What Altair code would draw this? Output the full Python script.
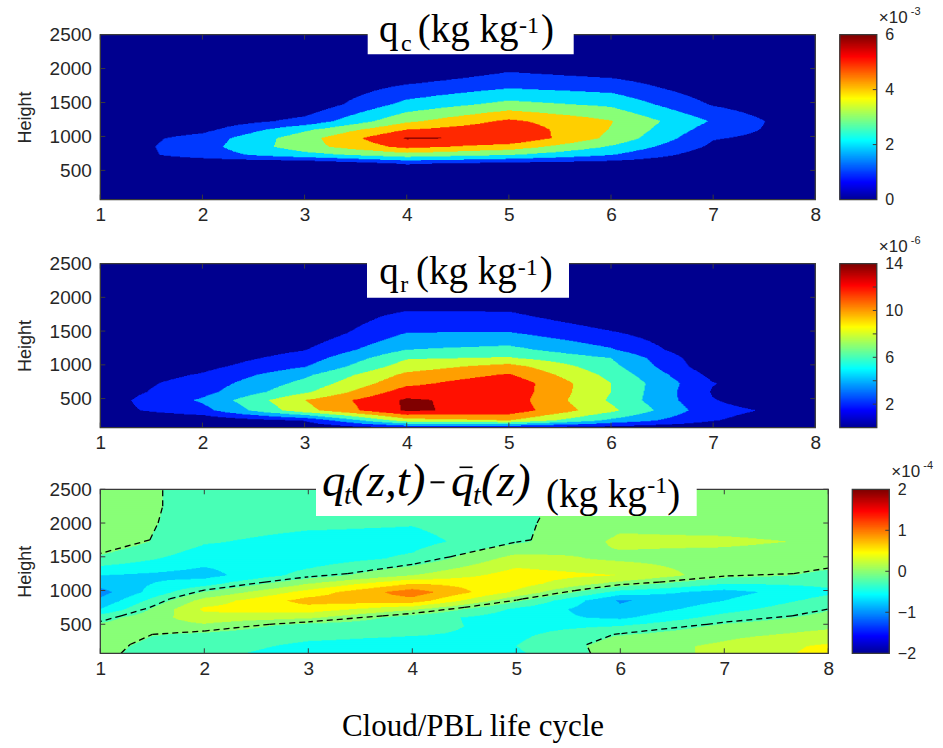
import numpy as np
import pandas as pd
import altair as alt

alt.data_transformers.disable_max_rows()

# ---------------- data ----------------
X_COLS = [1, 2, 3, 4, 5, 6, 7, 8]
HEIGHTS = [70, 200, 350, 500, 625, 750, 875, 1000, 1125, 1250, 1500, 1750, 2000, 2250, 2500]

# q_c  (x 1e-3 kg/kg), rows = HEIGHTS (bottom -> top), cols = X_COLS
QC_E3 = [
    [0, 0, 0, 0, 0, 0, 0, 0],
    [0, 0, 0, 0, 0, 0, 0, 0],
    [0, 0, 0, 0, 0, 0, 0, 0],
    [0, 0, 0, 0, 0, 0, 0, 0],
    [0, 0.1, 0.1, 1.1, 0.7, 0.5, 0.1, 0],
    [0.3, 1.5, 2.6, 3.5, 3.0, 2.0, 0.4, 0.2],
    [0.3, 1.6, 3.6, 5.3, 4.6, 2.9, 0.8, 0.3],
    [0.3, 1.4, 3.6, 6.1, 5.9, 3.75, 1.07, 0.53],
    [0.1, 0.7, 2.8, 5.0, 5.7, 3.95, 1.5, 0.4],
    [0, 0.3, 1.3, 3.8, 5.2, 4.05, 1.9, 0.14],
    [0, 0, 0.2, 2.3, 3.3, 2.8, 0.9, 0],
    [0, 0, 0, 1.2, 1.9, 1.6, 0.3, 0],
    [0, 0, 0, 0, 0.9, 0.5, 0, 0],
    [0, 0, 0, 0, 0, 0, 0, 0],
    [0, 0, 0, 0, 0, 0, 0, 0],
]

# q_r  (x 1e-6 kg/kg)
QR_E6 = [
    [0, 0, 0, 0.5, 0, 0, 0, 0],
    [0, 0.5, 2.1, 9.0, 10.0, 5.5, 2.1, 0.5],
    [1.17, 3.3, 9.3, 14.3, 13.25, 8.5, 2.6, 1.2],
    [1.0, 4.3, 10.0, 14.3, 13.1, 7.7, 2.1, 0],
    [0.9, 3.3, 7.6, 13.0, 13.3, 8.0, 1.8, 0],
    [0.8, 2.9, 6.6, 11.5, 13.4, 8.0, 2.1, 0],
    [0.5, 2.2, 5.6, 10.5, 12.2, 7.4, 1.4, 0],
    [0.3, 1.4, 3.9, 9.0, 10.8, 6.6, 0.6, 0],
    [0.1, 0.8, 2.9, 7.8, 8.2, 6.0, 0.3, 0],
    [0, 0.3, 1.9, 6.0, 6.6, 4.2, 0, 0],
    [0, 0, 0.5, 4.0, 4.1, 2.2, 0, 0],
    [0, 0, 0, 2.6, 2.4, 0.5, 0, 0],
    [0, 0, 0, 0.5, 0.8, 0, 0, 0],
    [0, 0, 0, 0, 0, 0, 0, 0],
    [0, 0, 0, 0, 0, 0, 0, 0],
]

# q_t(z,t) - mean q_t(z)  (x 1e-4 kg/kg)
QT_E4 = [
    [0.05, -0.2, -0.35, -0.4, -0.3, 0.12, 0.3, 0.6],
    [0.06, -0.15, -0.3, -0.35, -0.25, 0.12, 0.3, 0.55],
    [0.1, -0.1, -0.2, -0.25, -0.3, 0.02, 0.2, 0.35],
    [0.05, 0.2, -0.12, -0.15, -0.35, -0.25, 0.05, 0.2],
    [-0.1, 0.4, 0.3, -0.12, -0.4, -0.55, -0.15, 0.08],
    [-0.5, 0.55, 0.65, 0.3, -0.3, -0.7, -0.35, -0.02],
    [-0.7, 0.35, 0.85, 0.9, 0.05, -0.78, -0.5, -0.15],
    [-0.85, 0.02, 0.6, 1.15, 0.45, -0.35, -0.6, -0.3],
    [-0.65, -0.35, 0.25, 0.75, 0.62, 0.15, -0.25, -0.2],
    [-0.5, -0.6, -0.15, 0.25, 0.62, 0.5, 0.1, -0.05],
    [-0.05, -0.4, -0.4, -0.2, 0.35, 0.2, 0.15, 0.1],
    [0.2, -0.22, -0.35, -0.35, -0.05, 0.3, 0.3, 0.22],
    [0.15, -0.12, -0.2, -0.24, -0.05, 0.2, 0.15, 0.1],
    [0.15, -0.1, -0.1, -0.15, -0.04, 0.1, 0.1, 0.1],
    [0.15, -0.1, -0.1, -0.1, -0.05, 0.1, 0.1, 0.1],
]

Y_TICKS = [500, 1000, 1500, 2000, 2500]
QC_LABELS, QC_MARKS = [0, 2, 4, 6], [2, 4]
QR_LABELS, QR_MARKS = [2, 6, 10, 14], [2, 4, 6, 8, 10, 12]
QT_LABELS, QT_MARKS = [-2, -1, 0, 1, 2], [-1, 0, 1]

# ---------------- styling ----------------
SANS = "Liberation Sans"
SERIF = "Liberation Serif"
TXT = "#262626"
BOX = "#3a3a3a"
JET_T = [0.0, 0.111, 0.365, 0.619, 0.873, 1.0]
JET_C = ["#00008f", "#0000ff", "#00ffff", "#ffff00", "#ff0000", "#800000"]

one = pd.DataFrame({"k": [0]})


def jet_scale(lo, hi):
    return alt.Scale(domain=[lo + t * (hi - lo) for t in JET_T], range=JET_C,
                     interpolate="rgb", clamp=True)


def fill_runs(grid, step, lo, hi, dx=0.01, dh=10.0):
    """contourf-like fill: linear interpolation of the grid, quantised to the contour levels"""
    G = np.array(grid, dtype=float)
    xe = np.arange(X_COLS[0], X_COLS[-1] + dx / 2, dx)
    he = np.arange(HEIGHTS[0], HEIGHTS[-1] + dh / 2, dh)
    xc = (xe[:-1] + xe[1:]) / 2
    hc = (he[:-1] + he[1:]) / 2
    rowx = np.array([np.interp(xc, X_COLS, r) for r in G])
    F = np.array([np.interp(hc, HEIGHTS, rowx[:, k]) for k in range(len(xc))]).T
    L = np.clip(np.floor(F / step + 1e-9) * step, lo, hi)
    recs = []
    for j in range(len(hc)):
        row = L[j]
        s = 0
        for k in range(1, len(row) + 1):
            if k == len(row) or row[k] != row[s]:
                # rows overlap their neighbours so no anti-aliasing seams show
                recs.append((round(xe[s], 3), round(xe[k], 3),
                             he[j] - 2.5 * dh, he[j + 1] + 2.5 * dh, row[s]))
                s = k
    return pd.DataFrame(recs, columns=["x0", "x1", "y0", "y1", "lv"])


def zero_segments(grid):
    G = np.array(grid, dtype=float)
    segs = []
    for i in range(len(HEIGHTS) - 1):
        for j in range(len(X_COLS) - 1):
            x0, x1 = X_COLS[j], X_COLS[j + 1]
            h0, h1 = HEIGHTS[i], HEIGHTS[i + 1]
            a, b, c, d = G[i, j], G[i, j + 1], G[i + 1, j + 1], G[i + 1, j]

            def cross(p, q, P, Q):
                t = p / (p - q)
                return (P[0] + t * (Q[0] - P[0]), P[1] + t * (Q[1] - P[1]))

            pts = {}
            if (a >= 0) != (b >= 0):
                pts["B"] = cross(a, b, (x0, h0), (x1, h0))
            if (b >= 0) != (c >= 0):
                pts["R"] = cross(b, c, (x1, h0), (x1, h1))
            if (c >= 0) != (d >= 0):
                pts["T"] = cross(c, d, (x1, h1), (x0, h1))
            if (d >= 0) != (a >= 0):
                pts["L"] = cross(d, a, (x0, h1), (x0, h0))
            if len(pts) == 2:
                p, q = list(pts.values())
                segs.append((p[0], p[1], q[0], q[1]))
            elif len(pts) == 4:
                ctr = (a + b + c + d) / 4
                pairs = [("B", "R"), ("T", "L")] if (ctr >= 0) == (a >= 0) else [("B", "L"), ("T", "R")]
                for u, v in pairs:
                    segs.append((pts[u][0], pts[u][1], pts[v][0], pts[v][1]))
    return pd.DataFrame(segs, columns=["x0", "y0", "x1", "y1"])


def label(txt, x, y, size, italic=False, align="left", font=SERIF, color="black"):
    kw = dict(text=txt, font=font, fontSize=size, align=align, baseline="alphabetic", color=color)
    if italic:
        kw["fontStyle"] = "italic"
    return alt.Chart(one).mark_text(**kw).encode(x=alt.value(x), y=alt.value(y))


def panel(grid, step, lo, hi, W, H, box, pieces, extra=(), dashed=False):
    XS = alt.Scale(domain=[1, 8], nice=False, zero=False)
    YS = alt.Scale(domain=[70, 2500], nice=False, zero=False)
    X_AX = alt.Axis(values=X_COLS, format="d", ticks=False, domain=False, grid=False,
                    labelPadding=6, labelFlush=False, title=None, labelFontSize=19,
                    labelFont=SANS, labelColor=TXT)
    Y_AX = alt.Axis(values=Y_TICKS, format="d", ticks=False, domain=False, grid=False,
                    labelPadding=9, title="Height", titlePadding=14.5, titleFontSize=18,
                    titleFont=SANS, titleFontWeight="normal", titleColor=TXT,
                    labelFontSize=19, labelFont=SANS, labelColor=TXT)
    xenc = alt.X("x0:Q", scale=XS, axis=X_AX)
    yenc = alt.Y("y0:Q", scale=YS, axis=Y_AX)

    runs = fill_runs(grid, step, lo, hi)
    layers = [alt.Chart(runs).mark_rect(clip=True).encode(
        x=xenc, x2="x1", y=yenc, y2="y1",
        color=alt.Color("lv:Q", scale=jet_scale(lo, hi), legend=None))]
    if dashed:
        layers.append(alt.Chart(zero_segments(grid)).mark_rule(
            color="black", strokeWidth=1.3, strokeDash=[6, 4], clip=True).encode(
            x=xenc, y=yenc, x2="x1", y2="y1"))
    xt = pd.DataFrame({"x0": X_COLS})
    yt = pd.DataFrame({"y0": Y_TICKS})
    layers += [
        alt.Chart(xt).mark_rule(color=BOX).encode(x=xenc, y=alt.value(H), y2=alt.value(H - 5)),
        alt.Chart(xt).mark_rule(color=BOX).encode(x=xenc, y=alt.value(0), y2=alt.value(5)),
        alt.Chart(yt).mark_rule(color=BOX).encode(y=yenc, x=alt.value(0), x2=alt.value(5)),
        alt.Chart(yt).mark_rule(color=BOX).encode(y=yenc, x=alt.value(W - 5), x2=alt.value(W)),
        alt.Chart(one).mark_rect(filled=False, stroke=BOX, strokeWidth=1.3).encode(
            x=alt.value(0), x2=alt.value(W), y=alt.value(0), y2=alt.value(H)),
        alt.Chart(one).mark_rect(color="white").encode(
            x=alt.value(box[0]), x2=alt.value(box[1]), y=alt.value(box[2]), y2=alt.value(box[3])),
    ]
    for p in pieces:
        layers.append(label(*p))
    layers += list(extra)
    return alt.layer(*layers).properties(width=W, height=H)


def colorbar(lo, hi, labels, marks, expo, H, W=37):
    n = 256
    e = np.linspace(lo, hi, n + 1)
    d = (hi - lo) / n
    df = pd.DataFrame({"c0": np.maximum(e[:-1] - 1.5 * d, lo), "c1": np.minimum(e[1:] + 1.5 * d, hi),
                       "lv": (e[:-1] + e[1:]) / 2})
    CS = alt.Scale(domain=[lo, hi], nice=False, zero=False)
    CA = alt.Axis(orient="right", values=labels, format="d", ticks=False, domain=False, grid=False,
                  labelPadding=8, labelFontSize=16, labelFont=SANS, labelColor=TXT,
                  title=None, labelOverlap=False)
    yenc = alt.Y("c0:Q", scale=CS, axis=CA)
    bar = alt.Chart(df).mark_rect().encode(
        x=alt.value(0), x2=alt.value(W), y=yenc, y2="c1",
        color=alt.Color("lv:Q", scale=jet_scale(lo, hi), legend=None))
    tk = alt.Chart(pd.DataFrame({"c0": marks})).mark_rule(color=BOX).encode(
        y=yenc, x=alt.value(W - 4), x2=alt.value(W))
    border = alt.Chart(one).mark_rect(filled=False, stroke=BOX, strokeWidth=1.3).encode(
        x=alt.value(0), x2=alt.value(W), y=alt.value(0), y2=alt.value(H))
    t1 = label("×10", W + 2, -12, 17, font=SANS, color=TXT)
    t2 = label(expo, W + 34, -20, 11, font=SANS, color=TXT)
    return alt.layer(bar, tk, border, t1, t2).properties(width=W, height=H)


P1_PIECES = [("q", 278.7, 7.7, 39), ("c", 300.7, 16.4, 24), ("(kg kg", 317.4, 7.7, 39),
             ("-1", 418.7, -2, 24), (")", 440.7, 7.7, 39)]
P2_PIECES = [("q", 279.0, 20.8, 39), ("r", 300.0, 28.2, 24), ("(kg kg", 315.7, 20.8, 39),
             ("-1", 417.5, 11, 24), (")", 439.5, 20.8, 39)]
P3_PIECES = [("q", 221.7, 7, 47, True), ("t", 243.7, 15, 28, True), ("(z,t)", 250.7, 7, 47, True),
             ("q", 350.7, 7, 47, True), ("t", 372.7, 15, 28, True), ("(z)", 380.7, 7, 47, True),
             ("(kg kg", 445.7, 17.5, 39), ("-1", 547.0, 4, 24), (")", 567.0, 17.5, 39)]

p3_extra = [
    alt.Chart(one).mark_rule(color="black", strokeWidth=2).encode(
        x=alt.value(330.2), x2=alt.value(344.2), y=alt.value(-7)),
    alt.Chart(one).mark_rule(color="black", strokeWidth=1.6).encode(
        x=alt.value(359.2), x2=alt.value(372.2), y=alt.value(-22)),
    label("Cloud/PBL life cycle", 372.7, 247, 31, align="center"),
]

p1 = panel(QC_E3, 1.0, 0, 6, 715, 165, (267.4, 473.4, -2, 19.7), P1_PIECES)
p2 = panel(QR_E6, 2.0, 0, 14, 715, 164, (266.7, 468.7, -2, 34.2), P2_PIECES)
p3 = panel(QT_E4, 0.25, -2, 2, 728, 164, (215.7, 596.4, -2, 26.7), P3_PIECES, p3_extra, dashed=True)

c1 = colorbar(0, 6, QC_LABELS, QC_MARKS, "-3", 165)
c2 = colorbar(0, 14, QR_LABELS, QR_MARKS, "-6", 164)
c3 = colorbar(-2, 2, QT_LABELS, QT_MARKS, "-4", 164)

IND = dict(x="independent", y="independent", color="independent")
r1 = alt.hconcat(p1, c1, spacing=17.5).resolve_scale(**IND)
r2 = alt.hconcat(p2, c2, spacing=17.5).resolve_scale(**IND)
r3 = alt.hconcat(p3, c3, spacing=17).resolve_scale(**IND)

top = alt.vconcat(r1, r2, spacing=10).resolve_scale(**IND)
chart = alt.vconcat(top, r3, spacing=5.7).resolve_scale(**IND).properties(
    padding={"left": 16.3, "top": 5.6, "right": 2, "bottom": 2}
).configure_view(strokeWidth=0)

chart.save("out.html", embed_options={"renderer": "svg", "actions": False})
